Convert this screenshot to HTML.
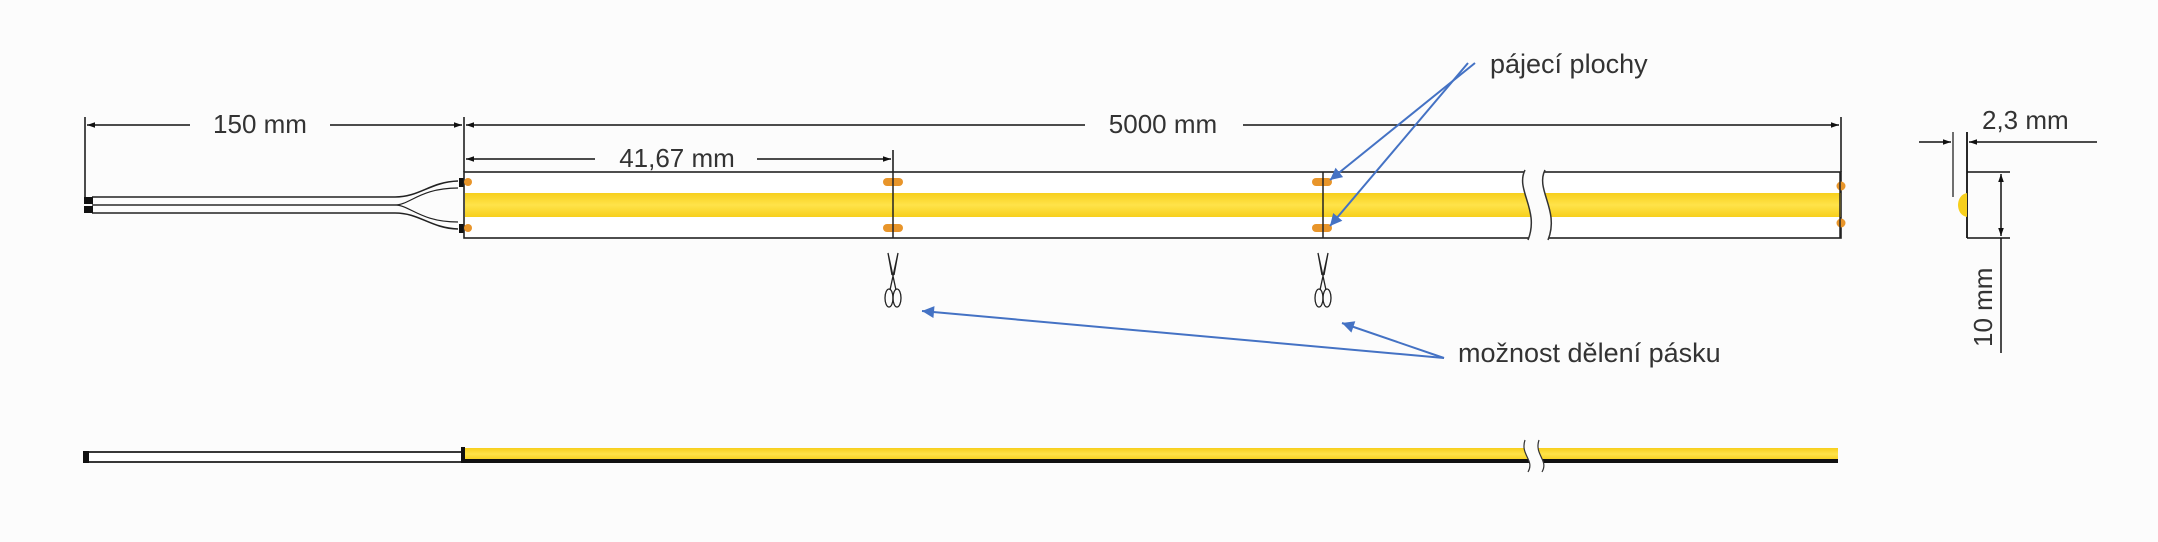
<!DOCTYPE html>
<html><head><meta charset="utf-8"><style>
html,body{margin:0;padding:0;background:#fcfcfc;}
svg{display:block;}
text{font-family:"Liberation Sans",sans-serif;fill:#333;}
</style></head><body>
<svg width="2158" height="542" viewBox="0 0 2158 542" xmlns="http://www.w3.org/2000/svg">
<defs>
<marker id="ah" viewBox="0 0 10 10" refX="10" refY="5" markerWidth="14" markerHeight="8" orient="auto-start-reverse" markerUnits="userSpaceOnUse"><path d="M0,1.5 L10,5 L0,8.5 z" fill="#111"/></marker>
<marker id="bh" viewBox="0 0 10 10" refX="10" refY="5" markerWidth="16" markerHeight="12" orient="auto" markerUnits="userSpaceOnUse"><path d="M0,0 L10,5 L0,10 z" fill="#4472c4"/></marker>
<linearGradient id="yg" x1="0" y1="0" x2="0" y2="1"><stop offset="0" stop-color="#f7cf1c"/><stop offset="0.5" stop-color="#ffe34a"/><stop offset="1" stop-color="#f7cf1c"/></linearGradient>
</defs>
<rect width="2158" height="542" fill="#fcfcfc"/>

<line x1="85" y1="117" x2="85" y2="197" stroke="#111" stroke-width="1.5"/>
<line x1="464" y1="117" x2="464" y2="172" stroke="#111" stroke-width="1.5"/>
<line x1="87" y1="125" x2="190" y2="125" stroke="#111" stroke-width="1.5" marker-start="url(#ah)"/>
<line x1="330" y1="125" x2="462" y2="125" stroke="#111" stroke-width="1.5" marker-end="url(#ah)"/>
<text x="260" y="133" font-size="26" text-anchor="middle">150 mm</text>

<line x1="466" y1="125" x2="1085" y2="125" stroke="#111" stroke-width="1.5" marker-start="url(#ah)"/>
<line x1="1243" y1="125" x2="1839" y2="125" stroke="#111" stroke-width="1.5" marker-end="url(#ah)"/>
<line x1="1841" y1="117" x2="1841" y2="172" stroke="#111" stroke-width="1.5"/>
<text x="1163" y="133" font-size="26" text-anchor="middle">5000 mm</text>

<line x1="466" y1="159" x2="595" y2="159" stroke="#111" stroke-width="1.5" marker-start="url(#ah)"/>
<line x1="757" y1="159" x2="891" y2="159" stroke="#111" stroke-width="1.5" marker-end="url(#ah)"/>
<line x1="893" y1="150" x2="893" y2="172" stroke="#111" stroke-width="1.5"/>
<text x="677" y="167" font-size="26" text-anchor="middle">41,67 mm</text>

<g fill="none" stroke="#222" stroke-width="1.6">
<path d="M92,197 L395,197 C420,197 430,182 458,181"/>
<path d="M92,213 L395,213 C420,213 430,228 458,229"/>
<path d="M92,205 L395,205 C410,205 420,188 458,188" stroke-width="1.2"/>
<path d="M92,205 L395,205 C410,205 420,222 458,222" stroke-width="1.2"/>
</g>
<rect x="84" y="197" width="9" height="7" fill="#111"/>
<rect x="84" y="206" width="9" height="7" fill="#111"/>
<rect x="459" y="178" width="8" height="9" fill="#111"/>
<rect x="459" y="224" width="8" height="9" fill="#111"/>

<rect x="464" y="172" width="1377" height="66" fill="#fff" stroke="#222" stroke-width="1.6"/>
<rect x="465" y="193" width="1376" height="24" fill="url(#yg)"/>
<circle cx="468" cy="182" r="4" fill="#e8952a"/>
<circle cx="468" cy="228" r="4" fill="#e8952a"/>
<rect x="883" y="178" width="20" height="8" rx="4" fill="#e8952a"/>
<rect x="883" y="224" width="20" height="8" rx="4" fill="#e8952a"/>
<rect x="1312" y="178" width="20" height="8" rx="4" fill="#e8952a"/>
<rect x="1312" y="224" width="20" height="8" rx="4" fill="#e8952a"/>
<circle cx="1841" cy="186" r="4.5" fill="#e8952a"/>
<circle cx="1841" cy="223" r="4.5" fill="#e8952a"/>
<line x1="893" y1="172" x2="893" y2="238" stroke="#222" stroke-width="1.5"/>
<line x1="1323" y1="172" x2="1323" y2="238" stroke="#222" stroke-width="1.5"/>
<path d="M1525,170 C1515,190 1540,210 1528,240 L1548,240 C1560,210 1535,190 1545,170 z" fill="#fcfcfc" stroke="none"/>
<path d="M1525,170 C1515,190 1540,210 1528,240" fill="none" stroke="#333" stroke-width="1.5"/>
<path d="M1545,170 C1535,190 1560,210 1548,240" fill="none" stroke="#333" stroke-width="1.5"/>
<line x1="1840" y1="172" x2="1840" y2="238" stroke="#222" stroke-width="1.5"/>

<g fill="none" stroke="#222" stroke-width="1.3">
<g transform="translate(893,0)">
<path d="M-5,253 L3,290 M5,253 L-3,290 M-5,253 L-1,275 M5,253 L1,275"/>
<ellipse cx="-4" cy="298" rx="4" ry="9"/><ellipse cx="4" cy="298" rx="4" ry="9"/>
</g>
<g transform="translate(1323,0)">
<path d="M-5,253 L3,290 M5,253 L-3,290 M-5,253 L-1,275 M5,253 L1,275"/>
<ellipse cx="-4" cy="298" rx="4" ry="9"/><ellipse cx="4" cy="298" rx="4" ry="9"/>
</g>
</g>

<text x="1490" y="73" font-size="27">pájecí plochy</text>
<line x1="1475" y1="63" x2="1330" y2="180" stroke="#4472c4" stroke-width="2" marker-end="url(#bh)"/>
<line x1="1468" y1="63" x2="1330" y2="226" stroke="#4472c4" stroke-width="2" marker-end="url(#bh)"/>
<text x="1458" y="362" font-size="27">možnost dělení pásku</text>
<line x1="1444" y1="358" x2="1342" y2="323" stroke="#4472c4" stroke-width="2" marker-end="url(#bh)"/>
<line x1="1444" y1="358" x2="922" y2="311" stroke="#4472c4" stroke-width="2" marker-end="url(#bh)"/>

<text x="1982" y="129" font-size="26">2,3 mm</text>
<line x1="1919" y1="142" x2="1951" y2="142" stroke="#111" stroke-width="1.5" marker-end="url(#ah)"/>
<line x1="2097" y1="142" x2="1969" y2="142" stroke="#111" stroke-width="1.5" marker-end="url(#ah)"/>
<line x1="1953" y1="132" x2="1953" y2="197" stroke="#111" stroke-width="1.2"/>
<line x1="1967" y1="132" x2="1967" y2="238" stroke="#111" stroke-width="1.8"/>
<line x1="1967" y1="172" x2="2010" y2="172" stroke="#111" stroke-width="1.5"/>
<line x1="1967" y1="238" x2="2010" y2="238" stroke="#111" stroke-width="1.5"/>
<line x1="2001" y1="174" x2="2001" y2="236" stroke="#111" stroke-width="1.5" marker-start="url(#ah)" marker-end="url(#ah)"/>
<line x1="2001" y1="238" x2="2001" y2="353" stroke="#111" stroke-width="1.5"/>
<path d="M1967,193 C1955,195 1955,215 1967,217 z" fill="#f7cf1c"/>
<text x="0" y="0" font-size="26" transform="translate(1992,347) rotate(-90)">10 mm</text>

<rect x="86" y="452" width="376" height="10" fill="#fff" stroke="#222" stroke-width="1.8"/>
<rect x="83" y="451" width="6" height="12" fill="#111"/>
<rect x="462" y="448" width="1376" height="12" fill="url(#yg)"/>
<rect x="462" y="459" width="1376" height="4" fill="#111"/>
<rect x="461" y="447" width="4" height="16" fill="#111"/>
<path d="M1525,440 C1520,455 1535,460 1528,472 L1542,472 C1549,460 1534,455 1539,440 z" fill="#fcfcfc"/>
<path d="M1525,440 C1520,455 1535,460 1528,472" fill="none" stroke="#333" stroke-width="1.2"/>
<path d="M1539,440 C1534,455 1549,460 1542,472" fill="none" stroke="#333" stroke-width="1.2"/>
</svg>
</body></html>
